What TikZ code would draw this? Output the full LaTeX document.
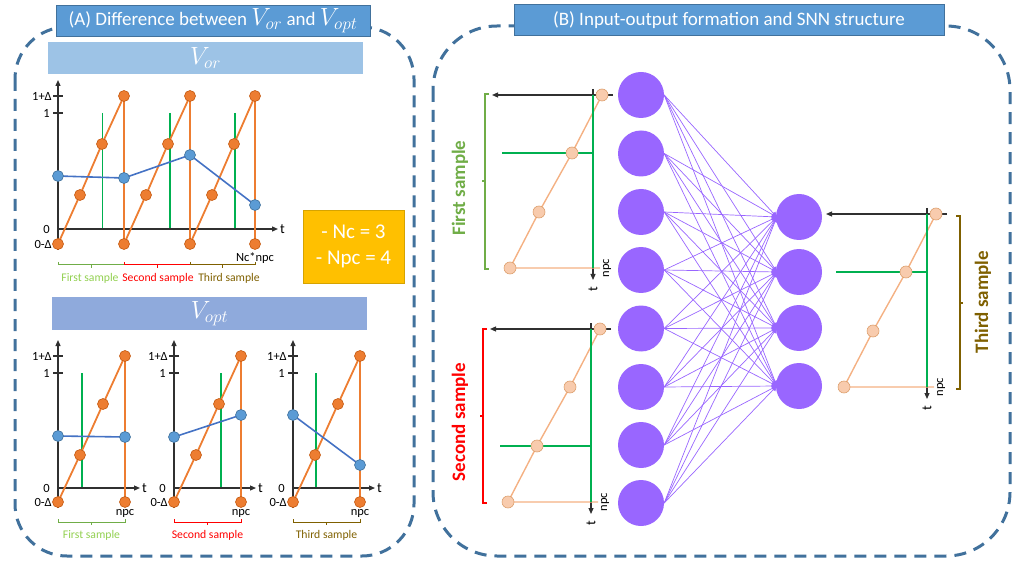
\documentclass[tikz,border=0pt]{standalone}
\usepackage{fontspec}
\setmainfont{Carlito}
\usetikzlibrary{arrows.meta}
\definecolor{dashblue}{HTML}{41719C}
\definecolor{titleblue}{HTML}{5B9BD5}
\definecolor{vorblue}{HTML}{9DC3E6}
\definecolor{voptblue}{HTML}{8FAADC}
\definecolor{orng}{HTML}{ED7D31}
\definecolor{orngdk}{HTML}{C55A11}
\definecolor{bluept}{HTML}{5B9BD5}
\definecolor{bluedk}{HTML}{41719C}
\definecolor{blueln}{HTML}{4472C4}
\definecolor{grn}{HTML}{00B050}
\definecolor{lgreen}{HTML}{70AD47}
\definecolor{lgtext}{HTML}{92D050}
\definecolor{olive}{HTML}{7F6000}
\definecolor{gold}{HTML}{FFC000}
\definecolor{golddk}{HTML}{D6A300}
\definecolor{purp}{HTML}{9966FF}
\definecolor{peach}{HTML}{F4B183}
\definecolor{peachfill}{HTML}{F8CBAD}
\definecolor{peachdk}{HTML}{DDA06E}
\definecolor{axgray}{HTML}{303030}

% horizontal brace under a chart: x1, x2, y, colour
\newcommand\hbrace[4]{%
  \draw[#4, line width=1pt] (#1,#3-3) -- (#1,#3) -- (#2,#3) -- (#2,#3-3);
  \draw[#4, line width=1pt] ({(#1+#2)/2},#3) -- ({(#1+#2)/2},#3+3);
}
% vertical bracket: x of line, y1, y2, colour, x of end ticks, x of middle tick
\newcommand\vbrace[6]{%
  \draw[#4, line width=2pt] (#5,#2) -- (#1,#2) -- (#1,#3) -- (#5,#3);
  \draw[#4, line width=2pt] (#1,{(#2+#3)/2}) -- (#6,{(#2+#3)/2});
}
% V_opt chart: x0, green x, blue y1, blue y2, brace colour, text colour, label, prefix
\newcommand\optchart[8]{%
  \draw[gline] (#2,373) -- (#2,488);
  \draw[axarrow] (#1,508) -- (#1,340);
  \draw[axarrow] (#1,488) -- (#1+82,488);
  \draw[axis] (#1-5,356) -- (#1+5,356);
  \draw[axis] (#1-5,373) -- (#1+5,373);
  \draw[axis] (#1+67,483) -- (#1+67,493);
  \node[ticklbl] (#8l1) at (#1-5,356) {1+Δ};
  \node[ticklbl] (#8l2) at (#1-7,373) {1};
  \node[ticklbl] (#8l3) at (#1-7,488) {0};
  \node[ticklbl] (#8l4) at (#1-5,502) {0-Δ};
  \node[tlbl,anchor=west] (#8t) at (#1+83,488) {t};
  \node[smlbl] (#8n) at (#1+67,513) {npc};
  \coordinate (#8o1) at (#1,502);
  \coordinate (#8o2) at (#1+22,455);
  \coordinate (#8o3) at (#1+45,404);
  \coordinate (#8o4) at (#1+67,356);
  \coordinate (#8o5) at (#1+67,502);
  \coordinate (#8b1) at (#1,#3);
  \coordinate (#8b2) at (#1+67,#4);
  \draw[oline] (#8o1) -- (#8o2) -- (#8o3) -- (#8o4) -- (#8o5);
  \draw[bline] (#8b1) -- (#8b2);
  \foreach \k in {1,...,5} \node[opt] (#8m\k) at (#8o\k) {};
  \node[bpt] (#8p1) at (#8b1) {};
  \node[bpt] (#8p2) at (#8b2) {};
  \hbrace{#1}{#1+67}{522}{#5}
  \node[samp, text=#6] (#8s) at (#1+33.5,535) {#7};
}
% rotated input chart: axis x A, top y T, prefix, offset of green horizontal
\newcommand\inchart[4]{%
  \coordinate (#3q1) at (#1+9,#2);
  \coordinate (#3q2) at (#1-21,#2+58);
  \coordinate (#3q3) at (#1-54,#2+117);
  \coordinate (#3q4) at (#1-83,#2+173);
  \coordinate (#3e) at (#1+7,#2+173);
  \draw[axis,-{Triangle[length=6pt,width=5pt]}] (#1+20,#2) -- (#1-101,#2);
  \draw[axis,-{Triangle[length=6pt,width=5pt]}] (#1,#2-6) -- (#1,#2+185);
  \draw[pline] (#3q1) -- (#3q2) -- (#3q3) -- (#3q4) -- (#3e);
  \draw[gline] (#1,#2) -- (#1,#2+173);
  \draw[gline] (#1-91,#2+#4) -- (#1,#2+#4);
  \foreach \k in {1,...,4} \node[ppt] (#3m\k) at (#3q\k) {};
  \node[tlbl,rotate=90] (#3t) at (#1,#2+194) {t};
  \node[smlbl,rotate=90] (#3n) at (#1+14,#2+173) {npc};
}
\newcommand\bigmath[1]{{\fontsize{23}{24}\selectfont$#1$}}

\begin{document}
\begin{tikzpicture}[x=1pt,y=-1pt,
  panel/.style={draw=dashblue, line width=3pt, dash pattern=on 12pt off 8pt},
  titlebox/.style={draw=dashblue, fill=titleblue, text=white, line width=0.6pt,
    font=\fontsize{19}{22}\selectfont, minimum height=31pt, inner sep=0pt},
  hdr/.style={text=white, font=\fontsize{25}{27}\selectfont, inner sep=0pt},
  axis/.style={draw=axgray, line width=1.2pt},
  axarrow/.style={axis, -{Triangle[length=6pt,width=5pt]}},
  ticklbl/.style={font=\fontsize{12.5}{13}\selectfont, anchor=east, inner sep=1pt},
  tlbl/.style={font=\fontsize{14}{15}\selectfont, inner sep=1pt},
  smlbl/.style={font=\fontsize{12.5}{13}\selectfont, inner sep=1pt},
  samp/.style={font=\fontsize{11.7}{13}\selectfont, inner sep=1pt},
  opt/.style={circle, fill=orng, draw=orngdk, line width=0.6pt, minimum size=11pt, inner sep=0pt},
  bpt/.style={circle, fill=bluept, draw=bluedk, line width=0.6pt, minimum size=11pt, inner sep=0pt},
  ppt/.style={circle, fill=peachfill, draw=peachdk, line width=0.6pt, minimum size=12pt, inner sep=0pt},
  oline/.style={draw=orng, line width=1.8pt},
  bline/.style={draw=blueln, line width=1.6pt},
  gline/.style={draw=grn, line width=1.8pt},
  pline/.style={draw=peach, line width=1.4pt},
  neuron/.style={circle, fill=purp, minimum size=46pt, inner sep=0pt},
  conn/.style={draw=purp, line width=0.7pt, -{Triangle[length=5pt,width=5pt]}},
  rotlbl/.style={rotate=90, font=\bfseries\fontsize{19}{22}\selectfont, inner sep=0pt}
]
\useasboundingbox (0,0) rectangle (1017,561);

% ---------- panels ----------
\draw[panel, rounded corners=52pt] (15,27) rectangle (414,556);
\draw[panel, rounded corners=64pt] (433,26) rectangle (1010,556);
\node[titlebox, minimum width=314pt] (titleA) at (213,20.5)
  {(A) Difference between \bigmath{V_{or}} and \bigmath{V_{opt}}};
\node[titlebox, minimum width=430pt] (titleB) at (729,20) {(B) Input-output formation and SNN structure};

% ---------- V_or ----------
\node[hdr, fill=vorblue, minimum width=315pt, minimum height=32pt] (hor) at (205.5,58) {$V_{or}$};

\draw[gline] (102.5,113) -- (102.5,229);
\draw[gline] (170,113) -- (170,229);
\draw[gline] (235,113) -- (235,229);
\draw[axarrow] (58,250) -- (58,80);
\draw[axarrow] (58,229) -- (278,229);
\draw[axis] (53,96) -- (63,96);
\draw[axis] (53,113) -- (63,113);
\draw[axis] (255,224) -- (255,234);
\node[ticklbl] (vl1) at (53,96) {1+Δ};
\node[ticklbl] (vl2) at (51,113) {1};
\node[ticklbl] (vl3) at (51,229) {0};
\node[ticklbl] (vl4) at (53,244) {0-Δ};
\node[tlbl,anchor=west] (vt) at (279,229) {t};
\node[smlbl] (vn) at (255,258) {Nc*npc};

\foreach \n/\x/\y in {1/58/244, 2/80/195, 3/102/144, 4/124/96, 5/124/244, 6/146/195, 7/168/144,
  8/190/96, 9/190/244, 10/212/195, 11/234/144, 12/255/96, 13/255/244}
  \coordinate (a\n) at (\x,\y);
\foreach \n/\x/\y in {1/58/176, 2/124/178, 3/190/155, 4/255/205}
  \coordinate (b\n) at (\x,\y);
\draw[oline] (a1) -- (a2) -- (a3) -- (a4) -- (a5) -- (a6) -- (a7) -- (a8) -- (a9)
  -- (a10) -- (a11) -- (a12) -- (a13);
\draw[bline] (b1) -- (b2) -- (b3) -- (b4);
\foreach \n in {1,...,13} \node[opt] (ma\n) at (a\n) {};
\foreach \n in {1,...,4} \node[bpt] (mb\n) at (b\n) {};

\hbrace{58}{124}{265}{lgreen}
\hbrace{124}{190}{265}{red}
\hbrace{190}{255}{265}{olive}
\node[samp, text=lgtext] (s1) at (90,278) {First sample};
\node[samp, text=red] (s2) at (158,278) {Second sample};
\node[samp, text=olive] (s3) at (229,278) {Third sample};

\node[fill=gold, draw=golddk, line width=0.6pt, minimum width=101pt, minimum height=73pt,
  text=white, align=center, font=\fontsize{21}{26}\selectfont, inner sep=0pt] (nc) at (353.5,246.5)
  {- Nc = 3\\- Npc = 4};

% ---------- V_opt ----------
\node[hdr, fill=voptblue, minimum width=315pt, minimum height=33pt] (hopt) at (209.5,313.5) {$V_{opt}$};
\optchart{58}{82}{436}{437}{lgreen}{lgtext}{First sample}{c}
\optchart{174}{221}{437}{415}{red}{red}{Second sample}{d}
\optchart{293}{316}{415}{465}{olive}{olive}{Third sample}{e}

% ---------- network ----------
\foreach \i/\y in {1/95, 2/153.5, 3/212, 4/270, 5/328.5, 6/387, 7/445, 8/503}
  \node[neuron] (in\i) at (641,\y) {};
\foreach \j/\y in {1/217, 2/272, 3/328, 4/386}
  \node[neuron] (out\j) at (799,\y) {};
\foreach \i in {1,...,8}
  \foreach \j in {1,...,4}
    \draw[conn] (in\i.east) -- ([xshift=1pt]out\j.west);

% ---------- input / output charts ----------
\inchart{593}{95}{f}{58}
\inchart{591}{329}{g}{117}
\inchart{927}{214}{h}{58}

\vbrace{485}{94}{269}{lgreen}{489}{482}
\vbrace{483}{329}{503}{red}{487}{480}
\vbrace{960}{216}{389}{olive}{956}{963}
\node[rotlbl, text=lgreen] (r1) at (460,188) {First sample};
\node[rotlbl, text=red] (r2) at (460,422) {Second sample};
\node[rotlbl, text=olive] (r3) at (983,302) {Third sample};
\end{tikzpicture}
\end{document}
